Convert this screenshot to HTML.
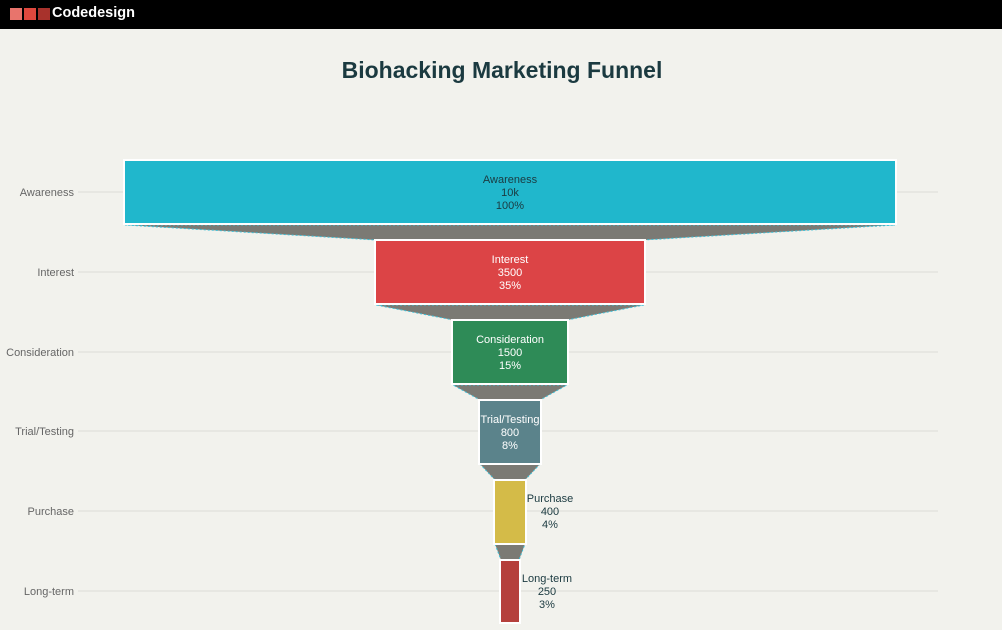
<!DOCTYPE html>
<html><head><meta charset="utf-8"><style>
html,body{margin:0;padding:0;width:1002px;height:630px;overflow:hidden;background:#f2f2ed;font-family:"Liberation Sans",sans-serif}
.top{position:absolute;left:0;top:0;width:1002px;height:29px;background:#000}
</style></head><body>
<div class="top">
<div style="position:absolute;left:10px;top:8px;width:12px;height:12px;background:#e8746c"></div>
<div style="position:absolute;left:24px;top:8px;width:12px;height:12px;background:#e0483e"></div>
<div style="position:absolute;left:38px;top:8px;width:12px;height:12px;background:#a8322c"></div>
<div style="position:absolute;left:52px;top:5px;color:#fff;font-weight:bold;font-size:14.5px">Codedesign</div>
</div>
<svg width="1002" height="630" style="position:absolute;left:0;top:0" font-family="Liberation Sans, sans-serif">
<text x="502" y="78" text-anchor="middle" font-size="23" font-weight="bold" fill="#1b3a40">Biohacking Marketing Funnel</text>
<g stroke="#dcdcd6" stroke-width="1">
<line x1="78" y1="192" x2="938" y2="192"/><line x1="78" y1="272" x2="938" y2="272"/>
<line x1="78" y1="352" x2="938" y2="352"/><line x1="78" y1="431" x2="938" y2="431"/>
<line x1="78" y1="511" x2="938" y2="511"/><line x1="78" y1="591" x2="938" y2="591"/>
</g>
<g font-size="11" fill="#666" text-anchor="end">
<text x="74" y="196">Awareness</text><text x="74" y="276">Interest</text>
<text x="74" y="356">Consideration</text><text x="74" y="435">Trial/Testing</text>
<text x="74" y="515">Purchase</text><text x="74" y="595">Long-term</text>
</g>
<g fill="#7b7a74" stroke="#3cc0d8" stroke-width="1" stroke-dasharray="2,2">
<polygon points="125,225 895,225 644,240 376,240"/>
<polygon points="376,305 644,305 567,320 453,320"/>
<polygon points="453,385 567,385 540,400 480,400"/>
<polygon points="480,464 540,464 525,480 495,480"/>
<polygon points="495,544 525,544 519,560 501,560"/>
</g>
<g stroke="#fff" stroke-width="2">
<rect x="124" y="160" width="772" height="64" fill="#20b7cc"/>
<rect x="375" y="240" width="270" height="64" fill="#dc4446"/>
<rect x="452" y="320" width="116" height="64" fill="#2e8b57"/>
<rect x="479" y="400" width="62" height="64" fill="#5b838b"/>
<rect x="494" y="480" width="32" height="64" fill="#d4bb48"/>
<rect x="500" y="560" width="20" height="63" fill="#b5403c"/>
</g>
<g font-size="11" text-anchor="middle">
<g fill="#1b3a40"><text x="510" y="183">Awareness</text><text x="510" y="196">10k</text><text x="510" y="209">100%</text></g>
<g fill="#fff"><text x="510" y="263">Interest</text><text x="510" y="276">3500</text><text x="510" y="289">35%</text></g>
<g fill="#fff"><text x="510" y="343">Consideration</text><text x="510" y="356">1500</text><text x="510" y="369">15%</text></g>
<g fill="#fff"><text x="510" y="423">Trial/Testing</text><text x="510" y="436">800</text><text x="510" y="449">8%</text></g>
<g fill="#1b3a40"><text x="550" y="502">Purchase</text><text x="550" y="515">400</text><text x="550" y="528">4%</text></g>
<g fill="#1b3a40"><text x="547" y="582">Long-term</text><text x="547" y="595">250</text><text x="547" y="608">3%</text></g>
</g>
</svg>
</body></html>
